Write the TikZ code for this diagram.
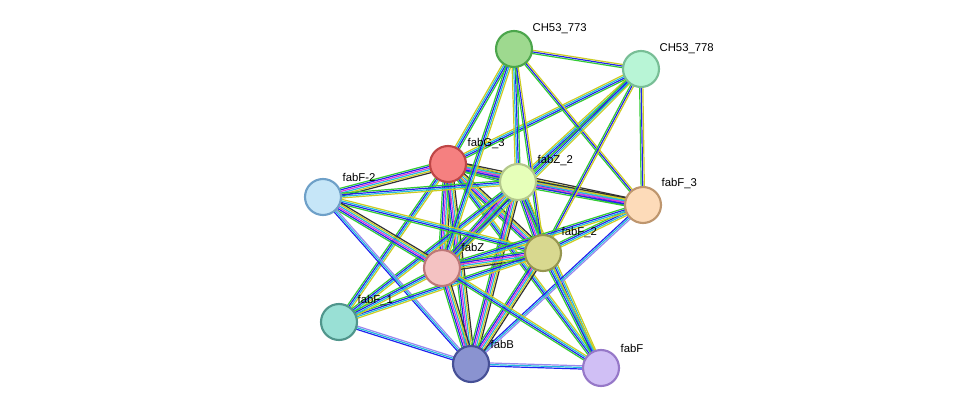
\documentclass[tikz,border=0pt]{standalone}
\usepackage{fontspec}
\setmainfont{Liberation Sans}
\usetikzlibrary{calc}
\definecolor{eg}{HTML}{33CC33}
\definecolor{eb}{HTML}{2222EE}
\definecolor{em}{HTML}{DD33DD}
\definecolor{ec}{HTML}{22BBDD}
\definecolor{ey}{HTML}{CCCC22}
\definecolor{ek}{HTML}{333333}
\definecolor{ep}{HTML}{9988EE}
\newcommand\myedge[3]{\foreach \c/\o in #3{\draw[\c,line width=0.9pt] ($(#1)!\o pt!90:(#2)$) -- ($(#2)!\o pt!-90:(#1)$);}}
\tikzset{nd/.style={circle,minimum size=27pt,inner sep=0pt,line width=1.6pt},
lb/.style={font=\fontsize{8.5}{10}\selectfont,anchor=south west,inner sep=1pt}}
\begin{document}
\begin{tikzpicture}[x=0.75pt,y=-0.75pt]
\useasboundingbox (0,0) rectangle (976,414);
\coordinate (c773) at (514,49);
\coordinate (c778) at (641,69);
\coordinate (g3) at (448,164);
\coordinate (z2) at (518,182);
\coordinate (fm2) at (323,197);
\coordinate (f3) at (643,205);
\coordinate (f2) at (543,253);
\coordinate (z) at (442,268);
\coordinate (f1) at (339,322);
\coordinate (b) at (471,364);
\coordinate (f) at (601,368);
\def\full{eg/-3,eb/-1.8,em/-0.6,ec/0.6,ey/1.8,ek/3}
\def\gby{eg/-1.8,eb/-0.6,ec/0.6,ey/1.8}
\def\bc{eb/-1.2,ec/0,ep/1.2}
\def\gbyy{eg/-1.2,eb/0,ey/1.2}
\myedge{g3}{z2}{\full}
\myedge{g3}{fm2}{\full}
\myedge{g3}{f3}{\full}
\myedge{g3}{f2}{\full}
\myedge{g3}{z}{\full}
\myedge{g3}{f1}{\gby}
\myedge{g3}{b}{\full}
\myedge{g3}{f}{\gby}
\myedge{g3}{c773}{\gby}
\myedge{g3}{c778}{\gby}
\myedge{z2}{c773}{\gby}
\myedge{z2}{c778}{\gby}
\myedge{z2}{fm2}{\gby}
\myedge{z2}{f3}{\full}
\myedge{z2}{f2}{\full}
\myedge{z2}{z}{\full}
\myedge{z2}{f1}{\gby}
\myedge{z2}{b}{\full}
\myedge{z2}{f}{\gby}
\myedge{c773}{c778}{\gbyy}
\myedge{c773}{f3}{\gbyy}
\myedge{c773}{f2}{\gbyy}
\myedge{c773}{z}{\gby}
\myedge{c778}{f3}{\gbyy}
\myedge{c778}{f2}{\gbyy}
\myedge{c778}{z}{\gby}
\myedge{fm2}{f2}{\gby}
\myedge{fm2}{z}{\full}
\myedge{fm2}{b}{\bc}
\myedge{f3}{f2}{\gby}
\myedge{f3}{z}{\gby}
\myedge{f3}{b}{\bc}
\myedge{f2}{z}{\full}
\myedge{f2}{b}{\full}
\myedge{f2}{f}{\gby}
\myedge{f2}{f1}{\gby}
\myedge{z}{f1}{\gby}
\myedge{z}{b}{\full}
\myedge{z}{f}{\gby}
\myedge{f1}{b}{\bc}
\myedge{b}{f}{\bc}
\node[nd,draw=green!50!black!70,fill={rgb,255:red,158;green,217;blue,143}] (n773) at (c773) {};
\node[nd,draw={rgb,255:red,120;green,190;blue,150},fill={rgb,255:red,184;green,245;blue,214}] (n778) at (c778) {};
\node[nd,draw={rgb,255:red,190;green,70;blue,70},fill={rgb,255:red,245;green,128;blue,128}] (ng3) at (g3) {};
\node[nd,draw={rgb,255:red,180;green,200;blue,140},fill={rgb,255:red,230;green,255;blue,185}] (nz2) at (z2) {};
\node[nd,draw={rgb,255:red,110;green,160;blue,200},fill={rgb,255:red,198;green,230;blue,248}] (nfm2) at (fm2) {};
\node[nd,draw={rgb,255:red,190;green,150;blue,110},fill={rgb,255:red,253;green,219;blue,185}] (nf3) at (f3) {};
\node[nd,draw={rgb,255:red,150;green,150;blue,80},fill={rgb,255:red,216;green,216;blue,143}] (nf2) at (f2) {};
\node[nd,draw={rgb,255:red,190;green,120;blue,120},fill={rgb,255:red,244;green,194;blue,194}] (nz) at (z) {};
\node[nd,draw={rgb,255:red,80;green,150;blue,140},fill={rgb,255:red,153;green,224;blue,213}] (nf1) at (f1) {};
\node[nd,draw={rgb,255:red,70;green,80;blue,150},fill={rgb,255:red,138;green,147;blue,208}] (nb) at (b) {};
\node[nd,draw={rgb,255:red,150;green,120;blue,200},fill={rgb,255:red,208;green,191;blue,245}] (nf) at (f) {};
\node[lb] at (531,35) {CH53\_773};
\node[lb] at (658,55) {CH53\_778};
\node[lb] at (466,150) {fabG\_3};
\node[lb] at (536,167) {fabZ\_2};
\node[lb] at (341,183) {fabF-2};
\node[lb] at (660,190) {fabF\_3};
\node[lb] at (560,239) {fabF\_2};
\node[lb] at (460,253) {fabZ};
\node[lb] at (356,307) {fabF\_1};
\node[lb] at (489,350) {fabB};
\node[lb] at (619,354) {fabF};
\end{tikzpicture}
\end{document}
